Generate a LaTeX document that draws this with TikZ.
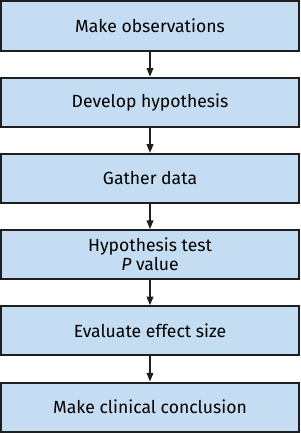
\documentclass[tikz,border=0pt]{standalone}
\usepackage{fontspec}
\setmainfont{Fira Sans}
\usepackage{xcolor}
\usetikzlibrary{arrows.meta}
\definecolor{boxblue}{RGB}{197,221,243}
\definecolor{boxline}{RGB}{30,30,30}

\begin{document}
\begin{tikzpicture}[
    stage/.style={rectangle, draw=boxline, line width=0.06cm, fill=boxblue, minimum width=8.91cm, minimum height=1.47cm, align=center, font=\fontsize{15}{16}\selectfont, inner sep=0pt},
    arrow/.style={-{Triangle[length=0.26cm, width=0.2cm]}, line width=0.045cm, color=boxline}
]
\useasboundingbox (0,0) rectangle (9,-12.99);
\node[stage] (obs)    at (4.5,-0.78)  {Make observations};
\node[stage] (hyp)    at (4.5,-3.066) {Develop hypothesis};
\node[stage] (data)   at (4.5,-5.352) {Gather data};
\node[stage] (test)   at (4.5,-7.638) {Hypothesis test\\\textit{P} value};
\node[stage] (effect) at (4.5,-9.924) {Evaluate effect size};
\node[stage] (concl)  at (4.5,-12.21) {Make clinical conclusion};

\foreach \a/\b in {obs/hyp, hyp/data, data/test, test/effect, effect/concl} {
    \draw[arrow] (\a) -- (\b);
}
\end{tikzpicture}
\end{document}
